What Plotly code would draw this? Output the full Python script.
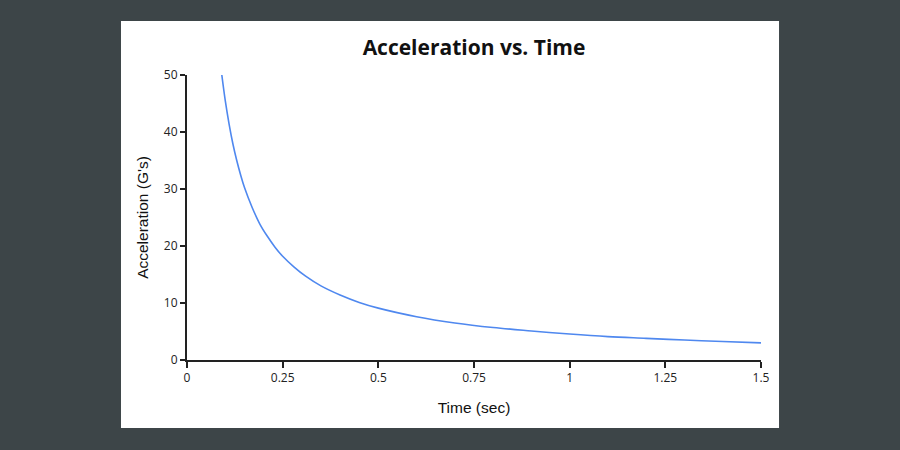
import plotly.graph_objects as go

time_sec = [0.091, 0.10, 0.11, 0.12, 0.13, 0.14, 0.15, 0.17, 0.19, 0.21, 0.23, 0.25,
            0.28, 0.31, 0.35, 0.40, 0.45, 0.50, 0.60, 0.70, 0.80, 0.90, 1.00,
            1.10, 1.20, 1.30, 1.40, 1.50]
accel_g = [50.0, 45.5, 41.4, 37.9, 35.0, 32.5, 30.3, 26.8, 23.9, 21.7, 19.8, 18.2,
           16.3, 14.7, 13.0, 11.4, 10.1, 9.1, 7.6, 6.5, 5.7, 5.1, 4.55,
           4.1, 3.8, 3.5, 3.25, 3.0]
x_ticks = [0, 0.25, 0.5, 0.75, 1, 1.25, 1.5]
x_tick_labels = ["0", "0.25", "0.5", "0.75", "1", "1.25", "1.5"]
y_ticks = [0, 10, 20, 30, 40, 50]

fig = go.Figure()
fig.add_trace(go.Scatter(x=time_sec, y=accel_g, mode="lines",
                         line=dict(color="#4f88ef", width=1.6, shape="spline"),
                         hoverinfo="skip"))

fig.add_shape(type="rect", xref="paper", yref="paper",
              x0=-0.115, x1=1.0314, y0=-0.2386, y1=1.1895,
              fillcolor="white", line=dict(width=0), layer="below")

tickfont = dict(family="Open Sans, sans-serif", size=12, color="#222")
fig.update_layout(
    width=900, height=450,
    margin=dict(l=187, r=139, t=75, b=90),
    paper_bgcolor="#3d4548", plot_bgcolor="white",
    showlegend=False,
    title=dict(text="<b>Acceleration vs. Time</b>", x=0.5, xref="paper",
               y=(450 - 48) / 450, yanchor="middle",
               font=dict(family="Open Sans, sans-serif", size=21, color="#111")),
    xaxis=dict(range=[0, 1.5], tickvals=x_ticks, ticktext=x_tick_labels,
               showgrid=False, zeroline=False, showline=True, linecolor="#222",
               linewidth=2, ticks="outside", ticklen=6, tickwidth=2, tickcolor="#222",
               tickfont=tickfont,
               title=dict(text="Time (sec)", standoff=17,
                          font=dict(family="Liberation Sans, Arial", size=15.5, color="#111"))),
    yaxis=dict(range=[0, 50], tickvals=y_ticks,
               showgrid=False, zeroline=False, showline=True, linecolor="#222",
               linewidth=2, ticks="outside", ticklen=5, tickwidth=2, tickcolor="#222",
               tickfont=tickfont,
               title=dict(text="Acceleration (G's)", standoff=11,
                          font=dict(family="Liberation Sans, Arial", size=15.5, color="#111"))),
)

fig.write_html("out.html")
